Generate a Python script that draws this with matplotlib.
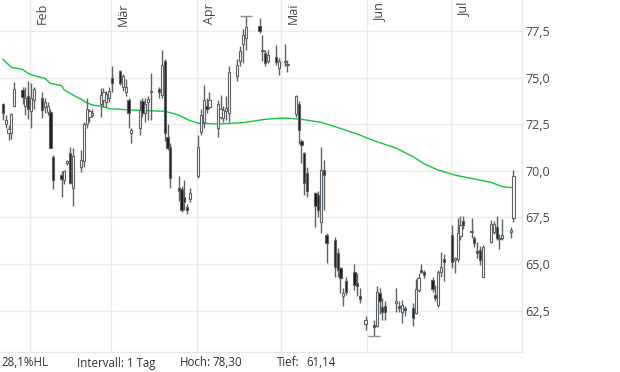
import numpy as np
import pandas as pd
import matplotlib
matplotlib.use("Agg")
import matplotlib.pyplot as plt
import matplotlib.dates as mdates

plt.rcParams['font.family'] = ['Open Sans', 'DejaVu Sans']

# trading days shown (a few days have no quote)
missing_days = ["2024-04-19", "2024-04-22", "2024-05-01", "2024-05-30", "2024-06-10"]
dates = pd.bdate_range("2024-01-22", "2024-07-23")
dates = dates[~dates.isin(pd.to_datetime(missing_days))]

opens = [73.6, 72.5, 72.03, 72.05, 73.45, 74.33, 73.5, 74.0, 73.2, 73.8,
         73.9, 73.4, 73.15, 73.15, 70.74, 69.75, 69.5, 70.4, 70.98, 69.1,
         70.2, 70.5, 72.5, 72.9, 73.0, 73.6, 73.8, 73.7, 73.9, 75.0,
         75.35, 74.5, 74.2, 73.8, 72.0, 72.3, 73.75, 73.1, 73.7, 74.3,
         74.4, 74.05, 75.9, 71.8, 71.3, 69.1, 69.0, 68.6, 68.05, 68.5,
         69.7, 72.1, 72.6, 73.5, 73.4, 72.3, 72.9, 72.85, 73.2, 73.1,
         75.1, 75.9, 76.8, 77.1, 77.75, 76.4, 76.3, 75.9, 76.1, 75.5,
         75.85, 75.65, 73.05, 73.6, 71.6, 70.95, 69.9, 68.8, 68.7, 67.25,
         70.05, 66.55, 66.3, 65.6, 64.8, 63.3, 64.1, 64.55, 64.0, 63.3,
         61.8, 61.75, 61.65, 63.45, 62.7, 62.75, 62.9, 62.75, 62.4, 62.65,
         62.65, 62.35, 63.6, 64.7, 64.55, 64.15, 63.35, 62.8, 64.55, 65.25,
         66.55, 65.2, 65.25, 66.5, 67.3, 66.75, 66.4, 65.7, 65.75, 64.3,
         66.2, 66.7, 67.0, 66.35, 66.4, 66.7, 67.45]
highs = [73.65, 73.0, 72.45, 73.1, 74.76, 74.5, 74.5, 74.8, 74.7, 74.5,
         74.2, 73.9, 73.7, 73.3, 70.85, 70.0, 70.05, 70.6, 71.3, 71.2,
         71.1, 72.6, 73.9, 73.3, 73.3, 74.44, 74.45, 74.3, 74.5, 75.6,
         75.4, 75.2, 74.9, 73.9, 72.3, 73.8, 73.9, 73.9, 74.0, 75.25,
         74.5, 76.5, 76.0, 72.5, 71.5, 69.7, 69.2, 69.5, 68.2, 69.1,
         71.9, 73.3, 74.6, 73.9, 74.2, 73.8, 74.05, 73.5, 74.0, 75.6,
         76.0, 76.7, 77.6, 78.3, 78.2, 77.3, 76.5, 76.5, 76.75, 76.05,
         76.8, 75.95, 74.05, 73.75, 71.7, 71.0, 70.2, 68.85, 68.9, 71.3,
         70.6, 66.65, 66.45, 65.85, 64.85, 63.7, 64.3, 65.0, 64.5, 63.7,
         62.2, 62.0, 63.8, 63.7, 63.2, 63.0, 63.7, 63.0, 63.05, 62.75,
         62.9, 64.2, 64.5, 65.0, 64.7, 64.3, 63.9, 64.7, 65.65, 65.55,
         67.1, 65.4, 67.45, 67.6, 67.6, 67.45, 66.5, 66.2, 65.95, 66.0,
         67.35, 67.3, 67.6, 66.6, 67.4, 67.0, 70.05]
lows = [72.75, 72.3, 71.65, 71.7, 73.45, 73.6, 73.0, 72.8, 72.3, 73.3,
        72.85, 73.1, 73.0, 71.2, 69.0, 68.6, 69.3, 70.3, 69.3, 68.1,
        69.95, 70.2, 72.3, 72.6, 72.9, 72.9, 73.4, 73.4, 73.7, 74.2,
        74.6, 74.3, 74.0, 72.3, 71.5, 71.9, 72.9, 72.6, 72.7, 72.7,
        73.9, 73.9, 71.6, 71.1, 69.1, 68.4, 67.8, 67.9, 67.7, 68.3,
        69.6, 71.9, 72.3, 73.1, 73.3, 71.8, 72.8, 72.6, 72.7, 72.6,
        74.8, 75.6, 75.8, 76.5, 77.4, 75.9, 75.6, 75.8, 75.7, 75.15,
        75.6, 75.3, 72.9, 71.45, 70.4, 68.7, 68.6, 67.0, 67.5, 66.65,
        67.9, 65.05, 64.3, 64.3, 63.45, 62.75, 63.35, 63.6, 63.3, 62.9,
        61.45, 61.14, 61.6, 62.3, 62.0, 62.0, 62.4, 62.4, 61.85, 62.2,
        61.65, 62.3, 63.5, 64.5, 64.25, 63.5, 63.0, 62.7, 64.3, 64.1,
        64.8, 64.5, 65.1, 66.3, 66.9, 66.4, 65.9, 65.3, 64.95, 64.3,
        66.1, 66.6, 66.3, 65.8, 66.3, 66.4, 67.25]
closes = [73.1, 72.7, 72.25, 73.05, 74.39, 73.96, 73.9, 73.3, 73.9, 74.4,
          73.25, 73.7, 73.5, 71.22, 69.5, 69.55, 70.0, 70.5, 69.35, 70.8,
          70.6, 72.5, 73.3, 73.2, 73.1, 74.07, 74.2, 74.1, 74.3, 74.7,
          74.7, 75.1, 74.5, 73.1, 72.2, 73.25, 73.1, 73.6, 73.85, 74.2,
          74.2, 75.7, 72.0, 71.2, 69.6, 68.9, 67.9, 68.3, 67.9, 68.8,
          71.3, 73.0, 73.8, 73.3, 73.8, 73.6, 73.3, 73.25, 73.35, 75.3,
          75.7, 76.4, 77.3, 77.7, 77.5, 76.5, 75.8, 76.2, 75.85, 75.9,
          75.9, 75.75, 74.0, 72.2, 71.4, 69.35, 68.9, 68.1, 67.9, 70.05,
          69.8, 66.1, 64.85, 64.7, 64.25, 63.45, 63.5, 63.85, 63.8, 63.1,
          62.0, 61.6, 63.5, 63.0, 62.4, 62.4, 63.0, 62.65, 62.8, 62.55,
          62.1, 63.65, 64.25, 64.55, 64.4, 63.65, 63.2, 64.55, 64.85, 65.1,
          65.1, 65.3, 66.65, 67.1, 67.1, 66.7, 66.1, 65.6, 65.2, 65.9,
          67.15, 67.15, 66.4, 66.4, 66.55, 66.8, 69.7]

# moving average (green line), read at selected days
ma_dates = ["2024-01-22", "2024-01-25", "2024-01-29", "2024-01-31", "2024-02-02",
            "2024-02-06", "2024-02-08", "2024-02-12", "2024-02-13", "2024-02-16",
            "2024-02-19", "2024-02-21", "2024-02-23", "2024-02-27", "2024-02-29",
            "2024-03-08", "2024-03-20", "2024-03-25", "2024-03-29", "2024-04-01",
            "2024-04-08", "2024-04-17", "2024-04-25", "2024-04-30", "2024-05-03",
            "2024-05-08", "2024-05-15", "2024-05-20", "2024-05-28", "2024-06-04",
            "2024-06-11", "2024-06-17", "2024-06-21", "2024-06-26", "2024-07-02",
            "2024-07-09", "2024-07-15", "2024-07-19", "2024-07-23"]
ma_values = [75.98, 75.55, 75.44, 75.23, 75.1,
             74.96, 74.69, 74.57, 74.33, 74.07,
             73.84, 73.65, 73.53, 73.44, 73.33,
             73.26, 73.19, 72.99, 72.69, 72.55,
             72.51, 72.58, 72.76, 72.82, 72.82,
             72.76, 72.6, 72.37, 71.97, 71.56,
             71.21, 70.76, 70.37, 70.04, 69.77,
             69.56, 69.38, 69.15, 69.09]

month_starts = ["2024-02-01", "2024-03-01", "2024-04-01", "2024-05-01", "2024-06-01", "2024-07-01"]
month_labels = ["Feb", "Mär", "Apr", "Mai", "Jun", "Jul"]
y_ticks = [62.5, 65.0, 67.5, 70.0, 72.5, 75.0, 77.5]

footer = [("28,1%HL", 1), ("Intervall: 1 Tag", 77), ("Hoch:", 180), ("78,30", 212),
          ("Tief:", 277), ("61,14", 306)]

edge = "#5c6166"
grid_c = "#ebebeb"
text_c = "#444444"

fig = plt.figure(figsize=(6.2, 3.72), dpi=100)
ax = fig.add_axes([0, 20 / 372, 521.5 / 620, 352 / 372])

x = mdates.date2num(dates) + 0.4
o = np.array(opens)
h = np.array(highs)
l = np.array(lows)
c = np.array(closes)

start = mdates.date2num(pd.Timestamp("2024-01-22"))
ax.set_xlim(start - 0.68, start + 186.3)
ax.set_ylim(60.28, 79.16)

# grid
for v in y_ticks:
    ax.axhline(v, color=grid_c, lw=1, zorder=0)
for m in month_starts:
    ax.axvline(mdates.date2num(pd.Timestamp(m)), color=grid_c, lw=1, zorder=0)

# moving average
ax.plot(mdates.date2num(pd.to_datetime(ma_dates)) + 0.4, ma_values,
        color="#10c83a", lw=1, zorder=2)

# candles
ax.vlines(x, l, h, color=edge, lw=1, zorder=3)
up = c >= o
bottom = np.minimum(o, c)
height = np.maximum(np.abs(c - o), 0.06)
ax.bar(x[up], height[up], bottom=bottom[up], width=0.8, color="white",
       edgecolor=edge, lw=0.8, zorder=4)
ax.bar(x[~up], height[~up], bottom=bottom[~up], width=0.8, color="#1c1c1c",
       edgecolor=edge, lw=0.8, zorder=4)

# markers for period high and low
ih = int(np.argmax(h))
il = int(np.argmin(l))
ax.hlines(h[ih], x[ih] - 2.1, x[ih] + 2.1, color="#8a8f94", lw=1, zorder=3)
ax.hlines(l[il], x[il] - 2.1, x[il] + 2.1, color="#8a8f94", lw=1, zorder=3)

# month labels
for m, lab in zip(month_starts, month_labels):
    ax.annotate(lab, xy=(mdates.date2num(pd.Timestamp(m)), 1), xycoords=("data", "axes fraction"),
                xytext=(6, -3), textcoords="offset pixels", rotation=90,
                ha="left", va="top", fontsize=9, color=text_c)

ax.yaxis.tick_right()
ax.set_yticks(y_ticks)
ax.set_yticklabels([f"{v:.1f}".replace(".", ",") for v in y_ticks])
ax.tick_params(axis="y", length=0, pad=3, labelsize=9, labelcolor=text_c)
ax.set_xticks([])
for s in ["top", "left"]:
    ax.spines[s].set_visible(False)
for s in ["right", "bottom"]:
    ax.spines[s].set_color("#e6e6e6")
    ax.spines[s].set_linewidth(1)

for txt, px in footer:
    fig.text(px / 620, 9 / 372, txt, ha="left", va="center", fontsize=8.3, color="#333333")

fig.savefig("out.png", dpi=100)
